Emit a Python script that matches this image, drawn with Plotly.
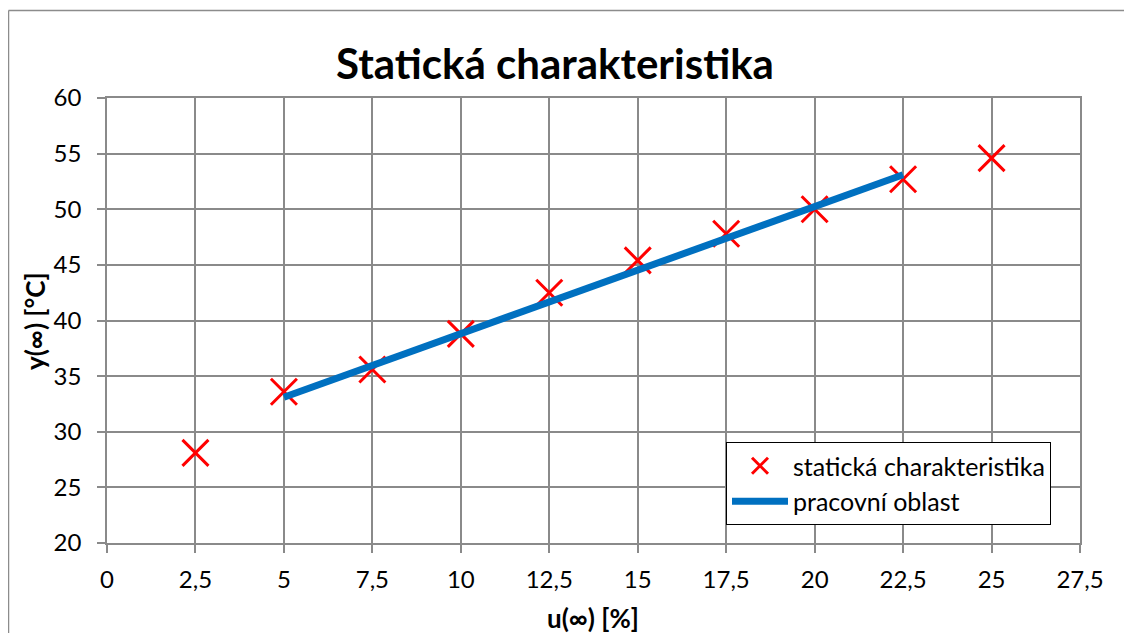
import plotly.graph_objects as go

# Data
u_values = [2.5, 5, 7.5, 10, 12.5, 15, 17.5, 20, 22.5, 25]
y_values = [28.1, 33.6, 35.6, 38.8, 42.5, 45.4, 47.8, 50.0, 52.7, 54.6]
line_u = [5, 22.5]
line_y = [33.1, 53.1]
x_ticks = [0, 2.5, 5, 7.5, 10, 12.5, 15, 17.5, 20, 22.5, 25, 27.5]
x_ticktext = ["0", "2,5", "5", "7,5", "10", "12,5", "15", "17,5", "20", "22,5", "25", "27,5"]
y_ticks = [20, 25, 30, 35, 40, 45, 50, 55, 60]
y_ticktext = [str(v) for v in y_ticks]

FONT = "Lato"
GRID = "#8a8a8a"
OFF = 8  # page body margin

W, H = 1132 - OFF, 633 - OFF
PL, PR, PT, PB = 107, 1080, 98, 543  # plot area in screen px
PW, PH = PR - PL, PB - PT


def px(x):
    return (x - PL) / PW


def py(y):
    return (PB - y) / PH


fig = go.Figure()
fig.add_trace(go.Scatter(
    x=u_values, y=y_values, mode="markers", name="statická charakteristika",
    marker=dict(symbol="x-thin-open", size=26, color="#ff0000",
                line=dict(color="#ff0000", width=3)),
))
fig.add_trace(go.Scatter(
    x=line_u, y=line_y, mode="lines", name="pracovní oblast",
    line=dict(color="#0070c0", width=7),
))

fig.update_layout(
    width=W, height=H,
    margin=dict(l=PL - OFF, r=W - (PR - OFF), t=PT - OFF, b=H - (PB - OFF)),
    paper_bgcolor="white", plot_bgcolor="white",
    font=dict(family=FONT, size=24, color="black"),
    title=dict(text="<b>Statická charakteristika</b>", x=(555 - OFF) / W, xref="container",
               y=1 - (64 - OFF) / H, yref="container", xanchor="center", yanchor="middle",
               font=dict(size=42, family=FONT, color="black")),
    showlegend=True,
    legend=dict(x=px(726), y=py(442), xanchor="left", yanchor="top",
                bordercolor="black", borderwidth=1, bgcolor="white",
                itemwidth=56,
                font=dict(size=25, family=FONT), tracegroupgap=0),
    xaxis=dict(range=[0, 27.5], tickvals=x_ticks, ticktext=x_ticktext,
               showgrid=True, gridcolor=GRID, gridwidth=1.5,
               showline=True, linecolor=GRID, linewidth=1.5, mirror=True,
               ticks="outside", ticklen=8, tickcolor=GRID, tickwidth=1.5,
               ticklabelstandoff=6, zeroline=False,
               tickfont=dict(size=24, family=FONT)),
    yaxis=dict(range=[20, 60], tickvals=y_ticks, ticktext=y_ticktext,
               showgrid=True, gridcolor=GRID, gridwidth=1.5,
               showline=True, linecolor=GRID, linewidth=1.5, mirror=True,
               ticks="outside", ticklen=8, tickcolor=GRID, tickwidth=1.5,
               ticklabelstandoff=11, zeroline=False,
               tickfont=dict(size=24, family=FONT)),
    annotations=[
        dict(text="<b>u(∞) [%]</b>", xref="paper", yref="paper",
             x=px(593), y=py(618), xanchor="center", yanchor="middle",
             showarrow=False, font=dict(size=26, family=FONT)),
        dict(text="<b>y(∞) [°C]</b>", xref="paper", yref="paper",
             x=px(35), y=py(321), xanchor="center", yanchor="middle",
             textangle=-90, showarrow=False, font=dict(size=26, family=FONT)),
    ],
    shapes=[
        dict(type="line", xref="paper", yref="paper",
             x0=px(8.5), x1=px(8.5), y0=py(10.5), y1=py(700),
             line=dict(color="#8c8c8c", width=1.5)),
        dict(type="line", xref="paper", yref="paper",
             x0=px(8.5), x1=px(1200), y0=py(10.5), y1=py(10.5),
             line=dict(color="#8c8c8c", width=1.5)),
    ],
)

fig.write_html("out.html")
